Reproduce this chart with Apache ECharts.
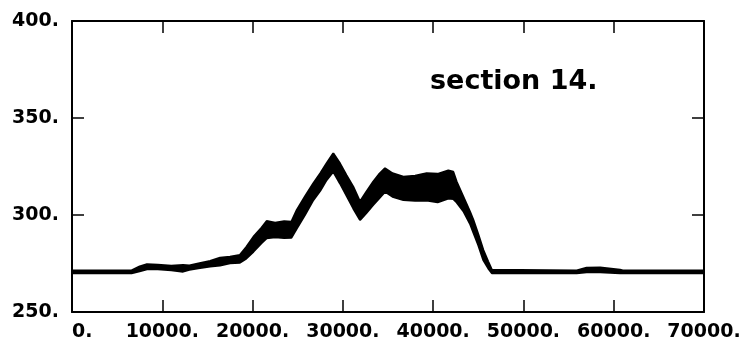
<!DOCTYPE html>
<html>
<head>
<meta charset="utf-8">
<script src="https://cdn.jsdelivr.net/npm/echarts@6/dist/echarts.min.js"></script>
<style>
html,body{margin:0;padding:0;background:#fff;}
#chart{width:747px;height:351px;}
</style>
</head>
<body>
<div id="chart"></div>
<script>
// Envelope of the dense signal
var xs =    [0, 6600, 7500, 8300, 9500, 11000, 12300, 13000, 14000, 15300, 16400, 17500, 18600, 19300, 20100, 21000, 21560, 22500, 23500, 24300, 24900, 25800, 26730, 27500, 28200, 28940, 29680, 30400, 31150, 31900, 32600, 33370, 34000, 34670, 35500, 36700, 38000, 39280, 40500, 41680, 42230, 42600, 43340, 44080, 44450, 45000, 45550, 46100, 46500, 55900, 57000, 58500, 60700, 61000, 70000];
var lower = [270.0, 270.0, 271.0, 272.0, 272.0, 271.5, 270.8, 271.8, 272.5, 273.4, 274.0, 275.1, 275.4, 277.5, 281.1, 285.5, 288.0, 288.5, 288.2, 288.3, 293.1, 300.0, 307.7, 312.5, 318.0, 322.3, 316.3, 310.0, 303.4, 297.4, 301.0, 305.2, 308.5, 312.0, 309.4, 307.7, 307.3, 307.5, 306.5, 308.5, 308.2, 306.5, 302.0, 295.5, 291.0, 284.5, 276.8, 272.5, 270.0, 270.0, 270.5, 270.5, 270.0, 270.0, 270.0];
var upper = [271.4, 271.4, 273.5, 274.6, 274.3, 273.8, 274.2, 274.0, 275.0, 276.3, 278.0, 278.5, 279.4, 283.5, 288.8, 293.5, 296.9, 296.0, 296.8, 296.5, 302.6, 309.5, 316.3, 321.5, 326.6, 331.8, 326.6, 320.5, 314.6, 306.9, 312.0, 317.2, 321.0, 324.1, 321.5, 319.7, 320.2, 321.5, 321.2, 323.0, 322.3, 317.2, 309.4, 301.7, 297.5, 290.0, 282.0, 276.0, 271.8, 271.4, 272.8, 273.0, 271.8, 271.4, 271.4];
var xTicks = [0, 10000, 20000, 30000, 40000, 50000, 60000, 70000];
var yTicks = [250, 300, 350, 400];
var titleText = 'section 14.';

var upData = xs.map(function (x, i) { return [x, upper[i]]; });
var lowData = xs.map(function (x, i) { return [x, lower[i]]; });

var font = 'DejaVu Sans';
var axisLine = { show: true, onZero: false, lineStyle: { color: '#000', width: 2 } };
var axisTick = { show: true, inside: true, length: 12, lineStyle: { color: '#000', width: 1.5 } };

var chart = echarts.init(document.getElementById('chart'), null, { renderer: 'canvas' });
chart.setOption({
  animation: false,
  backgroundColor: '#fff',
  grid: { left: 72, right: 43, top: 21, bottom: 39, containLabel: false },
  graphic: [{
    type: 'text', left: 430, top: 68, z: 20,
    style: { text: titleText, font: 'bold 27px "DejaVu Sans"', fill: '#000' }
  }],
  xAxis: [{
    type: 'value', position: 'bottom', z: 10,
    min: xTicks[0], max: xTicks[xTicks.length - 1], interval: 10000,
    axisLine: axisLine, axisTick: axisTick, splitLine: { show: false },
    axisLabel: { color: '#000', fontFamily: font, fontWeight: 'bold', fontSize: 19, margin: 11,
      alignMinLabel: 'left', formatter: function (v) { return v + '.'; } }
  }, {
    type: 'value', position: 'top', z: 10,
    min: xTicks[0], max: xTicks[xTicks.length - 1], interval: 10000,
    axisLine: axisLine, axisTick: axisTick, splitLine: { show: false },
    axisLabel: { show: false }
  }],
  yAxis: [{
    type: 'value', position: 'left', z: 10,
    min: yTicks[0], max: yTicks[yTicks.length - 1], interval: 50,
    axisLine: axisLine, axisTick: axisTick, splitLine: { show: false },
    axisLabel: { color: '#000', fontFamily: font, fontWeight: 'bold', fontSize: 19, margin: 13,
      formatter: function (v) { return v + '.'; } }
  }, {
    type: 'value', position: 'right', z: 10,
    min: yTicks[0], max: yTicks[yTicks.length - 1], interval: 50,
    axisLine: axisLine, axisTick: axisTick, splitLine: { show: false },
    axisLabel: { show: false }
  }],
  series: [{
    type: 'line', name: 'upper', data: upData, z: 2,
    showSymbol: false, symbol: 'none',
    lineStyle: { color: '#000', width: 2 },
    areaStyle: { color: '#000', opacity: 1, origin: 'start' }
  }, {
    type: 'line', name: 'lower', data: lowData, z: 3,
    showSymbol: false, symbol: 'none',
    lineStyle: { color: '#000', width: 2 },
    areaStyle: { color: '#fff', opacity: 1, origin: 'start' }
  }]
});
</script>
</body>
</html>
